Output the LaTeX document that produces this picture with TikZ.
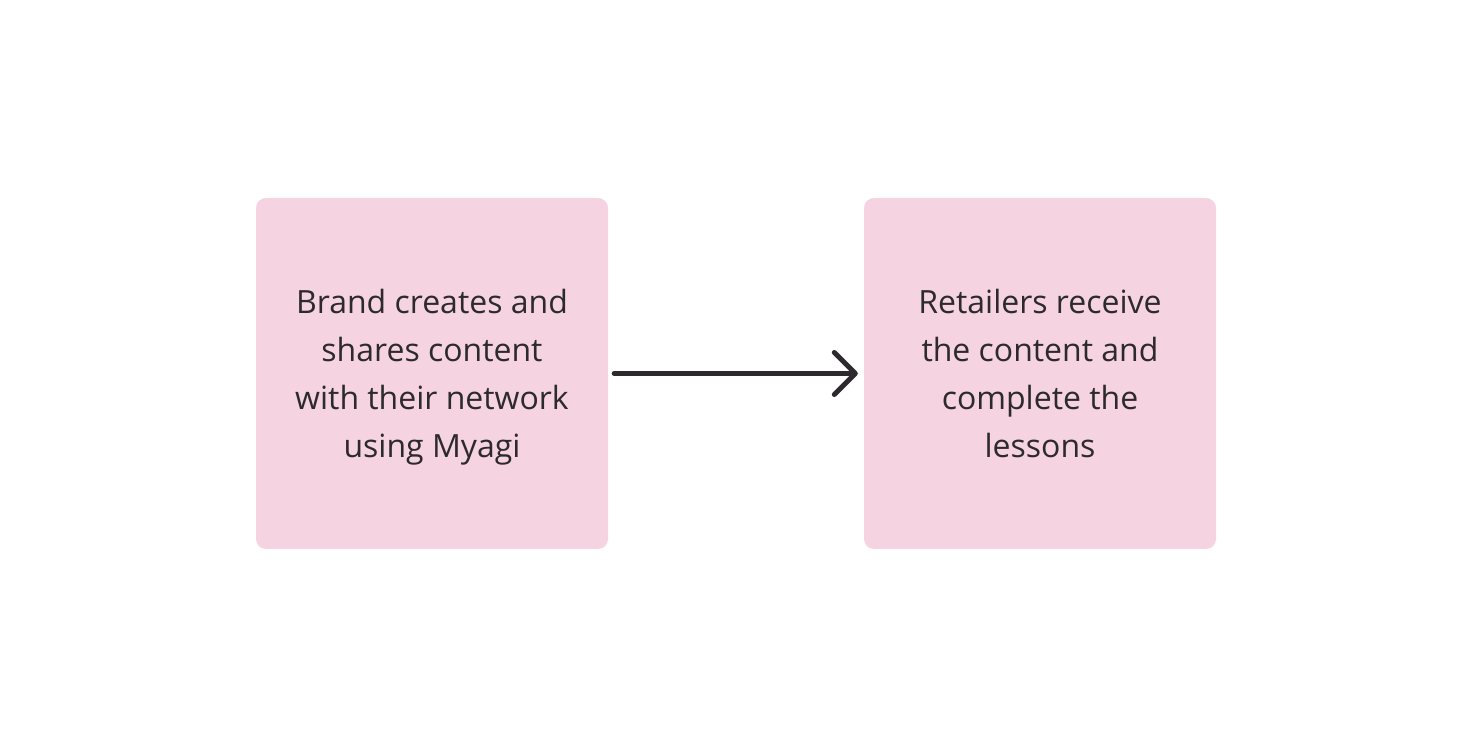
\documentclass[tikz,border=0pt]{standalone}
\usepackage{fontspec}
\setmainfont{Open Sans}
\usepackage{xcolor}
\usetikzlibrary{arrows.meta,positioning}
\definecolor{boxpink}{HTML}{F6D3E0}
\definecolor{inkdark}{HTML}{2C2A2D}

\begin{document}
\begin{tikzpicture}[
      x=1pt, y=1pt,
      card/.style={rectangle, fill=boxpink, minimum width=352pt, minimum height=351pt,
                   rounded corners=10pt, align=center, text=inkdark, text depth=0pt,
                   font=\fontsize{32}{48}\selectfont, inner sep=0pt},
      flow/.style={-{Straight Barb[length=21pt, width=42pt, round]}, line width=5pt,
                   line cap=round, draw=inkdark, shorten <=6pt, shorten >=6pt},
    ]
    \useasboundingbox (0,0) rectangle (1472,736);
    \node[card] (brand)  at (432, 362.5)  {Brand creates and\\shares content\\with their network\\using Myagi};
    \node[card] (retail) at (1040, 362.5) {Retailers receive\\the content and\\complete the\\lessons};

    \draw[flow] (brand) -- (retail);
  \end{tikzpicture}
\end{document}
